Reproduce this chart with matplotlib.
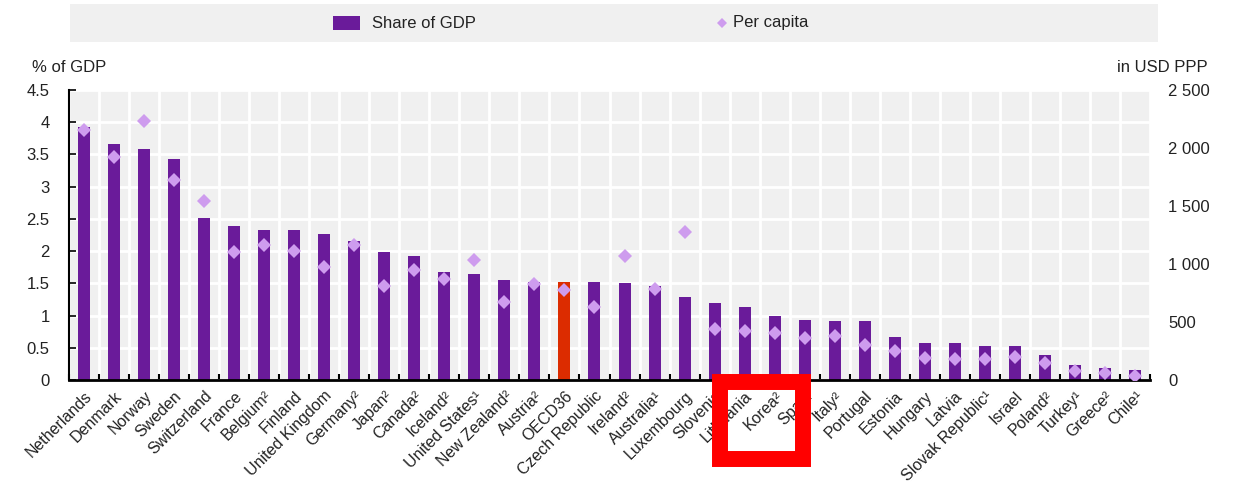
import matplotlib
matplotlib.use("Agg")
import matplotlib.pyplot as plt
from matplotlib.patches import Rectangle
from matplotlib.lines import Line2D
import numpy as np

plt.rcParams['font.family'] = ['Liberation Sans', 'DejaVu Sans']

countries = ["Netherlands", "Denmark", "Norway", "Sweden", "Switzerland", "France",
             "Belgium²", "Finland", "United Kingdom", "Germany²", "Japan²", "Canada²",
             "Iceland²", "United States¹", "New Zealand²", "Austria²", "OECD36",
             "Czech Republic", "Ireland²", "Australia¹", "Luxembourg", "Slovenia",
             "Lithuania", "Korea²", "Spain", "Italy²", "Portugal", "Estonia", "Hungary",
             "Latvia", "Slovak Republic¹", "Israel", "Poland²", "Turkey¹", "Greece²", "Chile¹"]
share_gdp = [3.92, 3.66, 3.58, 3.43, 2.52, 2.39, 2.33, 2.33, 2.27, 2.15, 1.99, 1.93,
             1.67, 1.64, 1.55, 1.52, 1.52, 1.52, 1.50, 1.46, 1.29, 1.20,
             1.14, 0.99, 0.93, 0.91, 0.91, 0.66, 0.58, 0.58, 0.52, 0.52, 0.39, 0.23, 0.18, 0.15]
per_capita = [2155, 1924, 2237, 1727, 1542, 1100, 1163, 1114, 975, 1163, 810, 952,
              874, 1036, 671, 830, 775, 628, 1070, 781, 1279, 440,
              419, 405, 362, 376, 304, 246, 188, 179, 179, 202, 145, 81, 64, 38]
left_ticks = [0, 0.5, 1, 1.5, 2, 2.5, 3, 3.5, 4, 4.5]
left_tick_labels = ["0", "0.5", "1", "1.5", "2", "2.5", "3", "3.5", "4", "4.5"]
right_ticks = [0, 500, 1000, 1500, 2000, 2500]
right_tick_labels = ["0", "500", "1 000", "1 500", "2 000", "2 500"]

PURPLE = "#6A1B9A"
RED = "#DC2C00"
LILAC = "#CE9CEE"
BG = "#F0F0F0"
TXT = "#222222"

W, H = 1235, 482
fig = plt.figure(figsize=(W / 100, H / 100), dpi=100)
ax = fig.add_axes([69 / W, (H - 380) / H, (1150 - 69) / W, (380 - 90) / H])
ax.set_facecolor(BG)

x = np.arange(len(countries))
colors = [RED if c == "OECD36" else PURPLE for c in countries]
ax.bar(x, share_gdp, width=0.4, color=colors, zorder=3)

ax.set_xlim(-0.5, len(countries) - 0.5)
ax.set_ylim(0, 4.5)
ax.set_yticks(left_ticks)
ax.set_yticklabels(left_tick_labels)
ax.set_xticks(x)
ax.set_xticklabels(countries, rotation=45, ha='right', va='top', rotation_mode='anchor')
ax.set_xticks(np.arange(-0.5, len(countries), 1.0), minor=True)

ax.tick_params(axis='x', which='major', length=0, pad=6, labelsize=11.5, labelcolor=TXT)
ax.tick_params(axis='x', which='minor', direction='in', length=4, width=1.5, color='black')
ax.tick_params(axis='y', which='major', direction='in', length=5, width=1.2, pad=14,
               labelsize=12, labelcolor=TXT)

ax.grid(False)
ax.yaxis.grid(True, color='white', linewidth=2, zorder=1)
ax.xaxis.grid(True, which='minor', color='white', linewidth=2, zorder=1)
ax.set_axisbelow(True)

for s in ['top', 'right']:
    ax.spines[s].set_visible(False)
ax.spines['left'].set_color('black')
ax.spines['left'].set_linewidth(1.5)
ax.spines['bottom'].set_color('black')
ax.spines['bottom'].set_linewidth(2)
ax.spines['left'].set_zorder(5)
ax.spines['bottom'].set_zorder(5)

ax2 = ax.twinx()
ax2.set_ylim(0, 2500)
ax2.plot(x, per_capita, linestyle='none', marker='D', markersize=7, color=LILAC,
         markeredgewidth=0, zorder=4)
ax2.set_yticks(right_ticks)
ax2.set_yticklabels(right_tick_labels)
ax2.tick_params(axis='y', length=0, pad=13, labelsize=12, labelcolor=TXT)
for s in ['top', 'right', 'left', 'bottom']:
    ax2.spines[s].set_visible(False)

# axis titles
fig.text(32 / W, 1 - 67 / H, "% of GDP", fontsize=12, color=TXT, ha='left', va='center')
fig.text(1208 / W, 1 - 67 / H, "in USD PPP", fontsize=12, color=TXT, ha='right', va='center')

# legend band
fig.patches.append(Rectangle((70 / W, 1 - 42 / H), (1158 - 70) / W, 38 / H,
                             transform=fig.transFigure, facecolor=BG, edgecolor='none', zorder=0))
fig.patches.append(Rectangle((333 / W, 1 - 30 / H), 27 / W, 14 / H,
                             transform=fig.transFigure, facecolor=PURPLE, edgecolor='none', zorder=1))
fig.text(372 / W, 1 - 23 / H, "Share of GDP", fontsize=12, color=TXT, ha='left', va='center')
fig.lines.append(Line2D([722 / W], [1 - 23 / H], transform=fig.transFigure, marker='D',
                        markersize=5, color=LILAC, markeredgewidth=0, linestyle='none'))
fig.text(733 / W, 1 - 23 / H, "Per capita", fontsize=12, color=TXT, ha='left', va='center')

# red highlight box
box = Rectangle((720 / W, 1 - 459 / H), (803.5 - 720) / W, (459 - 382) / H,
                transform=fig.transFigure, facecolor='none', edgecolor='#FF0000',
                linewidth=11.5, joinstyle='miter', zorder=10)
fig.patches.append(box)

fig.savefig("out.png", dpi=100)
